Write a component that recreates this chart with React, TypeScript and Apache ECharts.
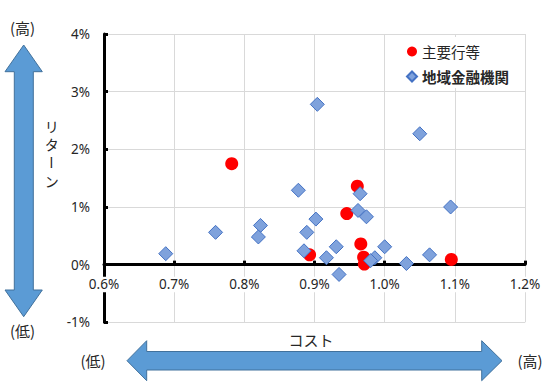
import React, { useEffect, useRef } from "react";
import * as echarts from "echarts";

const seriesNames = ["主要行等", "地域金融機関"];
const majorCost = [0.782, 0.893, 0.961, 0.946, 0.966, 0.970, 0.971, 1.095];
const majorReturn = [1.75, 0.17, 1.36, 0.885, 0.36, 0.13, 0.01, 0.09];
const regionalCost = [
  0.904, 1.050, 0.877, 0.902, 0.889, 0.823, 0.820, 0.759, 0.688, 0.885, 0.917,
  0.965, 0.962, 0.974, 0.931, 0.935, 1.000, 0.986, 0.980, 1.031, 1.064, 1.094,
];
const regionalReturn = [
  2.78, 2.27, 1.29, 0.79, 0.56, 0.68, 0.48, 0.56, 0.19, 0.24, 0.12,
  1.23, 0.94, 0.83, 0.31, -0.17, 0.31, 0.12, 0.07, 0.02, 0.17, 1.0,
];
const xTicks = { min: 0.6, max: 1.2, interval: 0.1 };
const yTicks = { min: -1, max: 4, interval: 1 };
const axisTitles = { x: "コスト", y: ["リ", "タ", "ー", "ン"], high: "(高)", low: "(低)" };

const FONT = "'Noto Sans', 'Noto Sans CJK JP', sans-serif";
const JFONT = "'Noto Sans CJK JP', 'Noto Sans', sans-serif";

const GRID = { left: 104, right: 23, top: 34, bottom: 60.7 };
const H = 383;

export default function App() {
  const ref = useRef<HTMLDivElement>(null);
  useEffect(() => {
    document.body.style.margin = "0";
    if (!ref.current) return;
    const chart = echarts.init(ref.current, undefined, { renderer: "svg" });
    const arrowStyle = { fill: "#5B9BD5", stroke: "#41719C", lineWidth: 1 };
    const txt = (x: number, y: number, text: string, size: number, extra: any = {}) => ({
      type: "text",
      x,
      y,
      ...extra,
      style: {
        text,
        fontSize: size,
        fontFamily: JFONT,
        fill: "#262626",
        align: "center",
        verticalAlign: "middle",
      },
    });
    const yChars = axisTitles.y.map((c, i) =>
      txt(51.7, 126 + i * 18.2, c, 14, c === "ー" ? { rotation: -Math.PI / 2 } : {})
    );
    // move the x axis (line, ticks, labels) up to the y = 0 position
    const plotH = H - GRID.top - GRID.bottom;
    const zeroOffset = -plotH * (0 - yTicks.min) / (yTicks.max - yTicks.min);
    chart.setOption({
      animation: false,
      backgroundColor: "#fff",
      textStyle: { fontFamily: FONT },
      grid: { ...GRID, containLabel: false },
      legend: {
        orient: "vertical",
        left: 388,
        top: 37,
        padding: [6.5, 12, 3.5, 18],
        backgroundColor: "#fff",
        itemWidth: 10,
        itemHeight: 10,
        itemGap: 9,
        textStyle: { fontSize: 14.5, fontFamily: JFONT, color: "#262626", lineHeight: 16 },
        data: [
          { name: seriesNames[0], icon: "circle" },
          { name: seriesNames[1], icon: "diamond", textStyle: { fontWeight: "bold" } },
        ],
      },
      xAxis: {
        type: "value",
        min: xTicks.min,
        max: xTicks.max,
        interval: xTicks.interval,
        offset: zeroOffset,
        axisLine: { show: true, onZero: false, lineStyle: { color: "#000", width: 3 } },
        axisTick: { show: true, inside: true, length: 4, lineStyle: { color: "#000", width: 3 } },
        axisLabel: {
          formatter: (v: number) => v.toFixed(1) + "%",
          fontSize: 13.5,
          color: "#262626",
          margin: 12,
          backgroundColor: "#fff",
          padding: [1, 2],
          fontFamily: FONT,
        },
        splitLine: { show: true, lineStyle: { color: "#d9d9d9", width: 1 } },
      },
      yAxis: {
        type: "value",
        min: yTicks.min,
        max: yTicks.max,
        interval: yTicks.interval,
        axisLine: { show: true, onZero: false, lineStyle: { color: "#000", width: 3 } },
        axisTick: { show: true, inside: true, length: 4, lineStyle: { color: "#000", width: 3 } },
        axisLabel: {
          formatter: (v: number) => v + "%",
          fontSize: 13.5,
          color: "#262626",
          margin: 14,
          fontFamily: FONT,
        },
        splitLine: { show: true, lineStyle: { color: "#d9d9d9", width: 1 } },
      },
      series: [
        {
          name: seriesNames[0],
          type: "scatter",
          symbol: "circle",
          symbolSize: 13,
          itemStyle: { color: "#FF0000", opacity: 1 },
          data: majorCost.map((c, i) => [c, majorReturn[i]]),
        },
        {
          name: seriesNames[1],
          type: "scatter",
          symbol: "diamond",
          symbolSize: 14,
          itemStyle: { color: "#7FA2DC", borderColor: "#4472C4", borderWidth: 1, opacity: 1 },
          data: regionalCost.map((c, i) => [c, regionalReturn[i]]),
        },
      ],
      graphic: [
        {
          type: "polygon",
          shape: {
            points: [
              [23.7, 45], [42.3, 71.7], [33.3, 71.7], [33.3, 290], [42.3, 290],
              [23.7, 316.7], [5, 290], [14.3, 290], [14.3, 71.7], [5, 71.7],
            ],
          },
          style: arrowStyle,
        },
        {
          type: "polygon",
          shape: {
            points: [
              [127, 360.7], [146.7, 340.7], [146.7, 351.5], [481.7, 351.5], [481.7, 340.7],
              [502, 360.7], [481.7, 380.7], [481.7, 370], [146.7, 370], [146.7, 380.7],
            ],
          },
          style: arrowStyle,
        },
        txt(22.5, 27.5, axisTitles.high, 15),
        txt(22.5, 330, axisTitles.low, 15),
        txt(93, 360.5, axisTitles.low, 15),
        txt(530, 360.5, axisTitles.high, 15),
        txt(311, 339, axisTitles.x, 15),
        ...yChars,
      ],
    });
    return () => chart.dispose();
  }, []);
  return <div ref={ref} style={{ width: 548, height: 383 }} />;
}
